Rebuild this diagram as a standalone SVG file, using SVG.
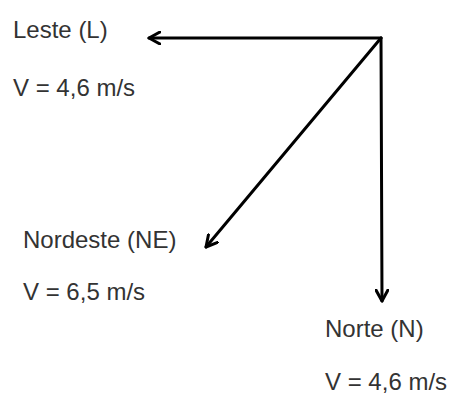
<svg xmlns="http://www.w3.org/2000/svg" width="454" height="398" viewBox="0 0 454 398">
<style>
.t{font-family:"Liberation Sans",Arial,sans-serif;font-size:24px;fill:#333}
.c{stroke:#000;stroke-width:3;fill:none;stroke-linecap:round}
</style>
<defs>
<marker id="ah" viewBox="0 0 14 14" refX="12" refY="7" markerWidth="14" markerHeight="14" markerUnits="userSpaceOnUse" orient="auto">
<polyline points="1,1 12,7 1,13" fill="none" stroke="#000" stroke-width="3" stroke-linecap="round" stroke-linejoin="round"/>
</marker>
</defs>
<rect width="454" height="398" fill="#fff"/>
<g id="connectors">
<line class="c" x1="381" y1="38" x2="149" y2="38" marker-end="url(#ah)"/>
<line class="c" x1="381" y1="38" x2="382" y2="301" marker-end="url(#ah)"/>
<line class="c" x1="381" y1="38" x2="206" y2="247" marker-end="url(#ah)"/>
</g>
<g id="leste">
<text class="t" x="13" y="38">Leste (L)</text>
<text class="t" x="13" y="96">V = 4,6 m/s</text>
</g>
<g id="nordeste">
<text class="t" x="23" y="248">Nordeste (NE)</text>
<text class="t" x="23" y="300">V = 6,5 m/s</text>
</g>
<g id="norte">
<text class="t" x="325" y="337">Norte (N)</text>
<text class="t" x="325" y="390">V = 4,6 m/s</text>
</g>
</svg>
